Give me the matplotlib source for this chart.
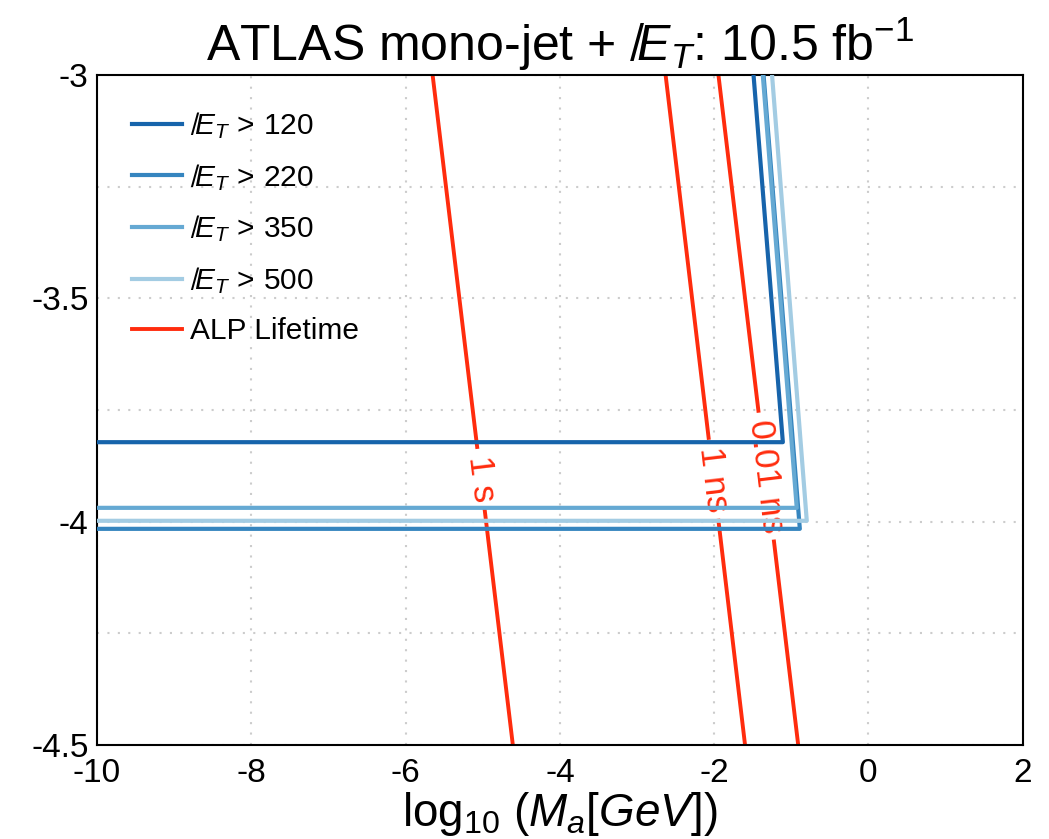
import numpy as np
import matplotlib
matplotlib.use("Agg")
import matplotlib.pyplot as plt

plt.rcParams['font.family'] = ['Liberation Sans', 'DejaVu Sans']
plt.rcParams['mathtext.fontset'] = 'custom'
plt.rcParams['mathtext.rm'] = 'Liberation Sans'
plt.rcParams['mathtext.it'] = 'Liberation Sans:italic'
plt.rcParams['mathtext.bf'] = 'Liberation Sans:bold'
plt.rcParams['axes.unicode_minus'] = False

# MET-cut exclusion edges: horizontal bound, corner, then the near-vertical bound up to the top
met_labels = [r'$\not{E}_T\,>\,120$', r'$\not{E}_T\,>\,220$',
              r'$\not{E}_T\,>\,350$', r'$\not{E}_T\,>\,500$']
met_colors = ['#1764ab', '#3585bf', '#65a9d3', '#a3cce3']
met_x = [[-10, -1.11, -1.49],
         [-10, -0.89, -1.36],
         [-10, -0.93, -1.37],
         [-10, -0.80, -1.25]]
met_y = [[-3.822, -3.822, -3.0],
         [-4.016, -4.016, -3.0],
         [-3.969, -3.969, -3.0],
         [-3.998, -3.998, -3.0]]

# ALP lifetime contours (straight lines), x at y=-3 and at y=-4.5
life_labels = ['1 s', '1 ns', '0.01 ns']
life_x_top = [-5.65, -2.63, -1.945]
life_x_bot = [-4.61, -1.60, -0.911]
life_y_ends = [-3.0, -4.5]
life_label_y = [-3.904, -3.905, -3.898]
red = '#ff2c0e'

xticks = [-10, -8, -6, -4, -2, 0, 2]
yticks = [-4.5, -4, -3.5, -3]
ytick_labels = ['-4.5', '-4', '-3.5', '-3']

fig = plt.figure(figsize=(10.49, 8.39), dpi=100)
ax = fig.add_axes([0.0925, 0.112, 0.8825, 0.7986])
ax.set_xlim(-10, 2)
ax.set_ylim(-4.5, -3)

# lifetime lines
for i in range(len(life_labels)):
    xs = [life_x_top[i], life_x_bot[i]]
    ax.plot(xs, life_y_ends, color=red, lw=2.8, zorder=2,
            label='ALP Lifetime' if i == 0 else None)
    p1 = ax.transData.transform((xs[0], life_y_ends[0]))
    p2 = ax.transData.transform((xs[1], life_y_ends[1]))
    ang = np.degrees(np.arctan2(p2[1] - p1[1], p2[0] - p1[0]))
    yl = life_label_y[i]
    xl = np.interp(yl, life_y_ends[::-1], xs[::-1])
    ax.text(xl, yl, life_labels[i], color=red, fontsize=25, rotation=ang,
            rotation_mode='anchor', ha='center', va='center', zorder=3,
            bbox=dict(facecolor='white', edgecolor='none', pad=5))

# MET exclusion edges
for i in range(len(met_labels)):
    ax.plot(met_x[i], met_y[i], color=met_colors[i], lw=3, zorder=4,
            label=met_labels[i])

ax.set_xticks(xticks)
ax.set_yticks(yticks)
ax.set_yticklabels(ytick_labels)
ax.set_yticks(np.arange(-4.5, -2.99, 0.25), minor=True)
ax.tick_params(axis='both', which='both', length=0, labelsize=24)
ax.tick_params(axis='x', pad=9)
ax.tick_params(axis='y', pad=6)
grid_style = dict(color='#cccccc', linestyle=(0, (1, 4)), lw=1.5)
ax.grid(True, which='major', axis='x', **grid_style)
ax.grid(True, which='both', axis='y', **grid_style)
for s in ax.spines.values():
    s.set_linewidth(1.5)

ax.set_xlabel(r'$\log_{10}\,(M_a[GeV])$', fontsize=33, labelpad=1)
ax.set_title(r'ATLAS mono-jet + $\,\not{E}_T$: 10.5 fb$^{-1}$', fontsize=36, pad=10)

handles, labels = ax.get_legend_handles_labels()
order = [1, 2, 3, 4, 0]
ax.legend([handles[k] for k in order], [labels[k] for k in order],
          loc='upper left', frameon=False, fontsize=21.5, handlelength=1.65,
          handletextpad=0.28, labelspacing=0.7, borderaxespad=0.78)

fig.savefig('out.png', dpi=100)
